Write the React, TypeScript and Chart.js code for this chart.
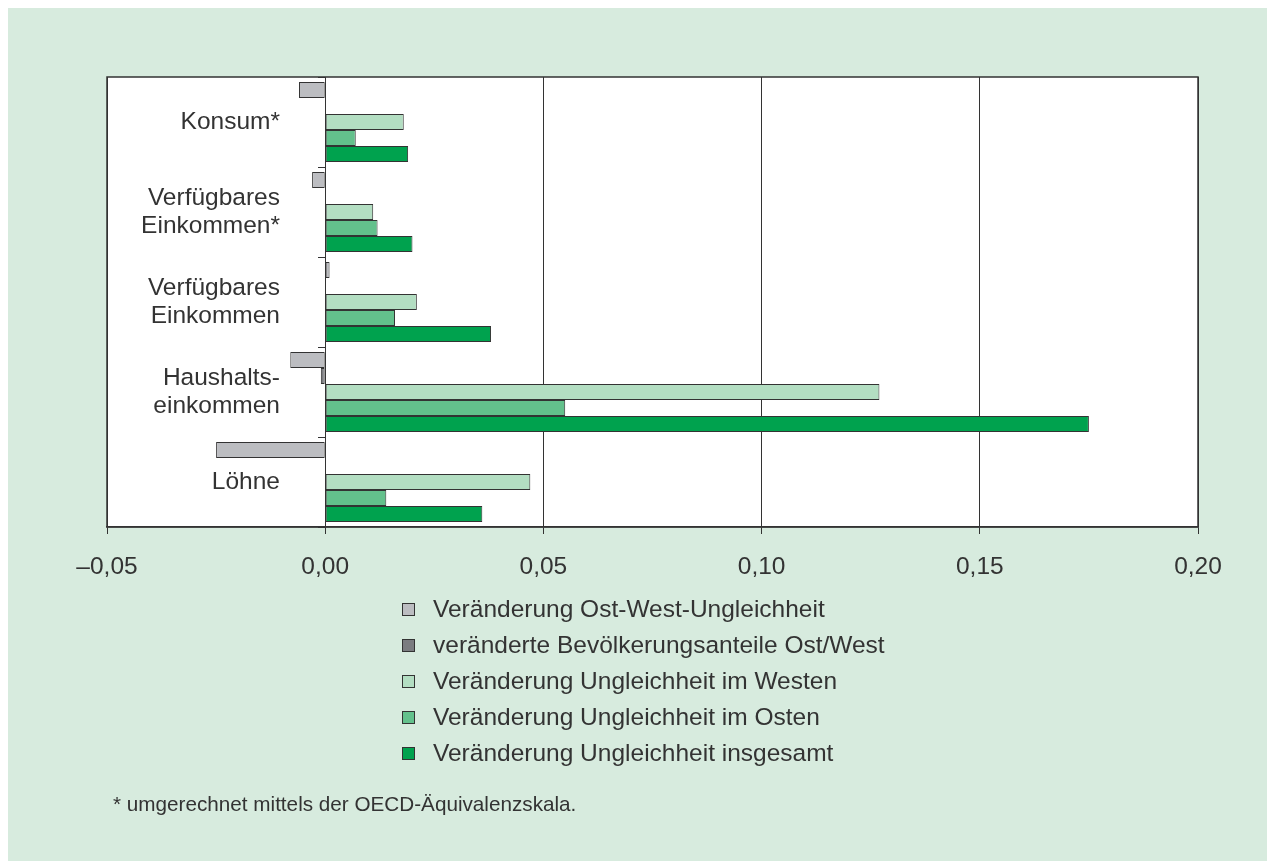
import React, { useEffect, useRef } from 'react';
import { Chart, registerables } from 'chart.js';

Chart.register(...registerables);

// ---- data ----
const categories: string[][] = [
  ['Konsum*'],
  ['Verfügbares', 'Einkommen*'],
  ['Verfügbares', 'Einkommen'],
  ['Haushalts-', 'einkommen'],
  ['Löhne'],
];
const ostWestUngleichheit = [-0.006, -0.003, 0.001, -0.008, -0.025];
const bevoelkerungsanteile = [0, 0, 0, -0.001, 0];
const ungleichheitWesten = [0.018, 0.011, 0.021, 0.127, 0.047];
const ungleichheitOsten = [0.007, 0.012, 0.016, 0.055, 0.014];
const ungleichheitInsgesamt = [0.019, 0.02, 0.038, 0.175, 0.036];

const seriesLabels = [
  'Veränderung Ost-West-Ungleichheit',
  'veränderte Bevölkerungsanteile Ost/West',
  'Veränderung Ungleichheit im Westen',
  'Veränderung Ungleichheit im Osten',
  'Veränderung Ungleichheit insgesamt',
];
const seriesValues = [
  ostWestUngleichheit,
  bevoelkerungsanteile,
  ungleichheitWesten,
  ungleichheitOsten,
  ungleichheitInsgesamt,
];
const seriesColors = ['#bcbdc1', '#7b7c80', '#b3dec2', '#63c18c', '#00a24e'];

const xMin = -0.05;
const xMax = 0.2;
const xStep = 0.05;
const xTickLabels = ['–0,05', '0,00', '0,05', '0,10', '0,15', '0,20'];

const footnote = '* umgerechnet mittels der OECD-Äquivalenzskala.';

// ---- styling ----
const FONT = '"Liberation Sans", Arial, Helvetica, sans-serif';
const FS = 24.5;
const BG = '#d7ebde';
const INK = '#333333';
const W = 1259;
const H = 853;

const plotFrame = {
  id: 'plotFrame',
  beforeDraw(chart: any) {
    const { ctx, chartArea } = chart;
    const { left, top, right, bottom } = chartArea;
    ctx.save();
    ctx.fillStyle = '#ffffff';
    ctx.fillRect(left, top, right - left, bottom - top);
    ctx.strokeStyle = INK;
    ctx.lineWidth = 1.5;
    ctx.strokeRect(left, top, right - left, bottom - top);
    ctx.restore();
  },
};

export default function App() {
  const ref = useRef<HTMLCanvasElement>(null);

  useEffect(() => {
    const m = document.createElement('canvas').getContext('2d')!;
    m.font = `${FS}px ${FONT}`;
    let widest = 0;
    categories.forEach((lines) =>
      lines.forEach((s) => {
        widest = Math.max(widest, m.measureText(s).width);
      })
    );
    const labelRightOffset = 173; // label right edge measured from plot left edge
    const yPad = Math.max(2, labelRightOffset - widest);

    const chart = new Chart(ref.current!, {
      type: 'bar',
      data: {
        labels: categories as any,
        datasets: seriesValues.map((vals, i) => ({
          label: seriesLabels[i],
          data: vals,
          backgroundColor: seriesColors[i],
          borderColor: INK,
          borderWidth: 1,
          borderSkipped: false,
          barPercentage: 1,
          categoryPercentage: 80 / 90,
        })),
      },
      options: {
        indexAxis: 'y',
        responsive: false,
        animation: false,
        layout: { padding: { left: 99, top: 69, right: 69, bottom: 0 } },
        plugins: {
          legend: { display: false },
          tooltip: { enabled: false },
          title: { display: false },
        },
        scales: {
          x: {
            type: 'linear',
            position: 'bottom',
            min: xMin,
            max: xMax,
            ticks: {
              stepSize: xStep,
              padding: 19,
              color: INK,
              font: { family: FONT, size: FS },
              callback: (_v: any, i: number) => xTickLabels[i],
            },
            grid: {
              color: INK,
              lineWidth: 1,
              drawTicks: true,
              tickLength: 7,
              tickColor: INK,
            },
            border: { display: true, color: INK, width: 1.5 },
            afterFit: (s: any) => {
              s.height = 334;
            },
          },
          y: {
            type: 'category',
            position: 'left',
            offset: true,
            grid: { display: false },
            border: { display: false },
            ticks: {
              mirror: true,
              crossAlign: 'far',
              padding: yPad,
              color: INK,
              font: { family: FONT, size: FS, lineHeight: 1.15 },
            },
            afterFit: (s: any) => {
              s.width = 0;
            },
          },
          y2: {
            axis: 'y',
            type: 'category',
            labels: categories as any,
            position: { x: 0 },
            offset: true,
            grid: {
              offset: true,
              drawOnChartArea: false,
              drawTicks: true,
              tickLength: 7,
              color: INK,
              tickColor: INK,
            },
            border: { display: true, color: INK, width: 1 },
            ticks: { display: false },
          },
        } as any,
      },
      plugins: [plotFrame],
    } as any);

    return () => chart.destroy();
  }, []);

  return (
    <div
      style={{
        position: 'relative',
        width: W,
        height: H,
        background: BG,
        fontFamily: FONT,
        color: INK,
        overflow: 'hidden',
      }}
    >
      <style>{'html,body{overflow:hidden;} body{margin:8px 0 0 8px;}'}</style>
      <canvas
        ref={ref}
        width={W}
        height={H}
        style={{ position: 'absolute', left: 0, top: 0, display: 'block' }}
      />
      <div style={{ position: 'absolute', left: 394, top: 583 }}>
        {seriesLabels.map((label, i) => (
          <div
            key={label}
            style={{
              display: 'flex',
              alignItems: 'center',
              height: 36,
              lineHeight: '36px',
              fontSize: FS,
              whiteSpace: 'nowrap',
            }}
          >
            <span
              style={{
                display: 'inline-block',
                width: 13,
                height: 13,
                boxSizing: 'border-box',
                border: `1px solid ${INK}`,
                background: seriesColors[i],
                marginRight: 18,
                flex: '0 0 auto',
              }}
            />
            {label}
          </div>
        ))}
      </div>
      <div
        style={{
          position: 'absolute',
          left: 105,
          top: 784,
          fontSize: 20.7,
          lineHeight: '24px',
          whiteSpace: 'nowrap',
        }}
      >
        {footnote}
      </div>
    </div>
  );
}
